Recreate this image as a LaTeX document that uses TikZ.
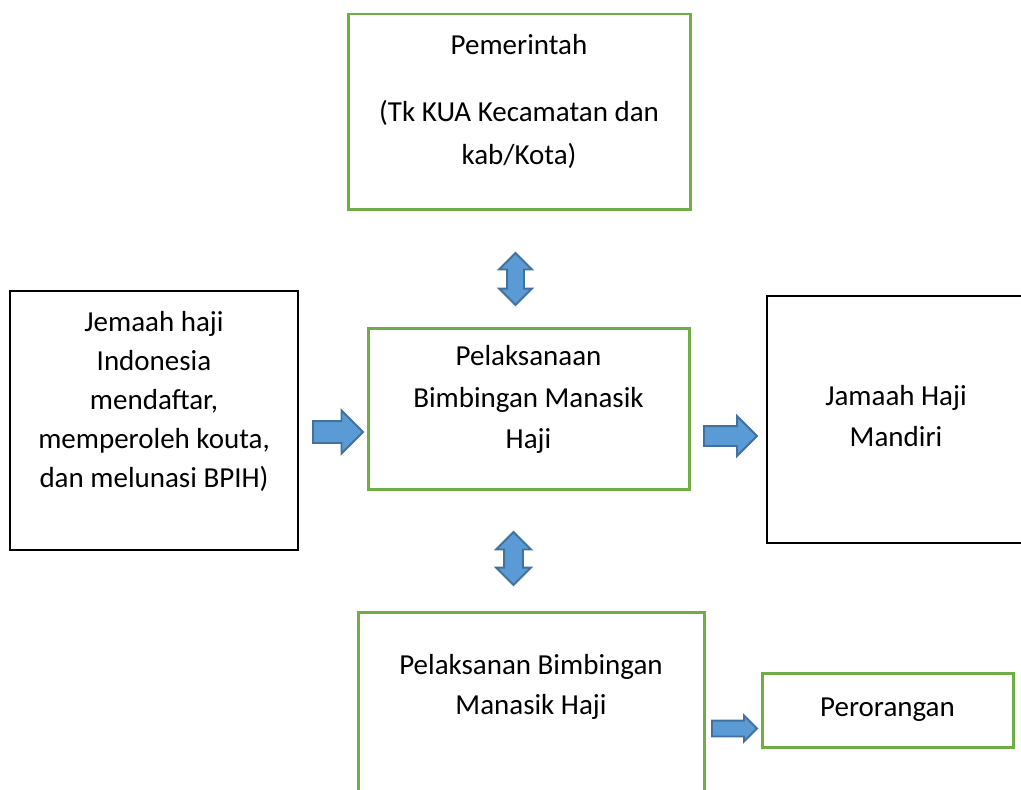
\documentclass[tikz,border=0pt]{standalone}
\usepackage{fontspec}
\setmainfont{Carlito}
\usepackage{tikz}
\usetikzlibrary{shapes.arrows}
\definecolor{leafgreen}{RGB}{112,173,71}
\definecolor{arrowblue}{RGB}{91,155,213}
\definecolor{arrowedge}{RGB}{65,113,156}

\begin{document}
\begin{tikzpicture}[
    greenbox/.style={draw=leafgreen, line width=1.7pt, rectangle, inner sep=0pt},
    blackbox/.style={draw=black, line width=0.8pt, rectangle, inner sep=0pt},
    boxtext/.style={align=center, inner sep=0pt, font=\fontsize{16.5}{23}\selectfont},
    rightarr/.style={single arrow, fill=arrowblue, draw=arrowedge, line width=1.1pt, anchor=tail},
    updownarr/.style={double arrow, fill=arrowblue, draw=arrowedge, line width=1.1pt,
      shape border rotate=90}]
        % Page frame
        \useasboundingbox (0,0) rectangle (20.42,-15.78);
        \clip (0,0) rectangle (20.42,-15.78);
        % Government box
        \node[greenbox, minimum width=6.84cm, minimum height=3.90cm] (gov) at (10.38,-2.23) {};
        \node[boxtext, font=\fontsize{16.5}{25}\selectfont] (govtext) at (10.38,-2.03)
          {Pemerintah\\[0.46cm] (Tk KUA Kecamatan dan\\ kab/Kota)};
        % Pilgrim registration box
        \node[blackbox, minimum width=5.76cm, minimum height=5.18cm] (jemaah) at (3.08,-8.41) {};
        \node[boxtext, font=\fontsize{16.5}{22.2}\selectfont] (jemaahtext) at (3.08,-8.02)
          {Jemaah haji\\ Indonesia\\ mendaftar,\\ memperoleh kouta,\\ dan melunasi BPIH)};
        % Guidance box
        \node[greenbox, minimum width=6.42cm, minimum height=3.22cm] (bimbingan) at (10.57,-8.17) {};
        \node[boxtext, font=\fontsize{16.5}{23.6}\selectfont] (bimbingantext) at (10.57,-7.99)
          {Pelaksanaan\\ Bimbingan Manasik\\ Haji};
        % Independent pilgrims box
        \node[blackbox, minimum width=5.20cm, minimum height=4.94cm] (mandiri) at (17.94,-8.39) {};
        \node[boxtext] (mandiritext) at (17.92,-8.32) {Jamaah Haji\\ Mandiri};
        % Lower guidance box
        \node[greenbox, minimum width=6.92cm, minimum height=3.90cm, anchor=north] (kelompok)
          at (10.62,-12.22) {};
        \node[boxtext] (kelompoktext) at (10.62,-13.74) {Pelaksanan Bimbingan\\ Manasik Haji};
        % Individual box
        \node[greenbox, minimum width=5.02cm, minimum height=1.48cm] (perorangan) at (17.75,-14.20)
          {\fontsize{16.5}{23}\selectfont Perorangan};
        % Block arrows
        \node[rightarr, minimum height=1.00cm, inner sep=0.20cm,
          single arrow head extend=0.21cm] (arrin) at (6.24,-8.64) {};
        \node[rightarr, minimum height=1.06cm, inner sep=0.18cm,
          single arrow head extend=0.20cm] (arrout) at (14.06,-8.72) {};
        \node[rightarr, minimum height=0.90cm, inner sep=0.14cm,
          single arrow head extend=0.10cm] (arrsolo) at (14.22,-14.57) {};
        \node[updownarr, minimum height=1.04cm, inner sep=0.15cm,
          double arrow head extend=0.16cm] (arrgov) at (10.31,-5.58) {};
        \node[updownarr, minimum height=1.06cm, inner sep=0.17cm,
          double arrow head extend=0.16cm] (arrgroup) at (10.27,-11.17) {};
      \end{tikzpicture}
\end{document}
